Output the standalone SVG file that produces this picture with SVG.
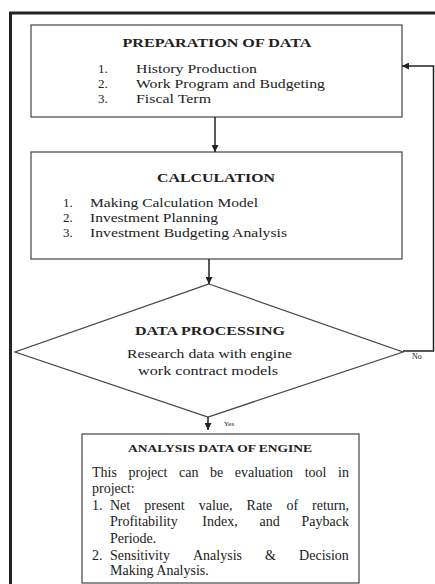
<svg xmlns="http://www.w3.org/2000/svg" width="435" height="584" viewBox="0 0 435 584">
<defs>
<marker id="ah" viewBox="0 0 10 10" refX="10" refY="5" markerWidth="7" markerHeight="7" markerUnits="userSpaceOnUse" orient="auto">
<path d="M0,0 L10,5 L0,10 Z" fill="#222"/>
</marker>
</defs>
<style>
text{font-family:"Liberation Serif","Times New Roman",serif;fill:#222}
.t{font-weight:bold;text-anchor:middle}
.box{fill:#fff;stroke:#444;stroke-width:1.2}
.ln{fill:none;stroke:#222;stroke-width:1.5}
</style>
<rect width="435" height="584" fill="#fff"/>
<g id="frame">
<path d="M10.5,584 V13 H435" fill="none" stroke="#222" stroke-width="3"/>
</g>
<g id="preparation">
<rect class="box" x="31" y="25" width="371" height="92"/>
<text class="t" x="217" y="47" font-size="12.5" textLength="189" lengthAdjust="spacingAndGlyphs">PREPARATION OF DATA</text>
<g font-size="13">
<text x="98" y="73">1.</text><text x="136" y="73" textLength="121" lengthAdjust="spacingAndGlyphs">History Production</text>
<text x="98" y="88">2.</text><text x="136" y="88" textLength="189" lengthAdjust="spacingAndGlyphs">Work Program and Budgeting</text>
<text x="98" y="103">3.</text><text x="136" y="103" textLength="75" lengthAdjust="spacingAndGlyphs">Fiscal Term</text>
</g>
</g>
<g id="calculation">
<rect class="box" x="31" y="152" width="371" height="107"/>
<text class="t" x="216" y="182" font-size="12.5" textLength="118" lengthAdjust="spacingAndGlyphs">CALCULATION</text>
<g font-size="13">
<text x="63" y="207">1.</text><text x="90" y="207" textLength="168" lengthAdjust="spacingAndGlyphs">Making Calculation Model</text>
<text x="63" y="222">2.</text><text x="90" y="222" textLength="128" lengthAdjust="spacingAndGlyphs">Investment Planning</text>
<text x="63" y="237">3.</text><text x="90" y="237" textLength="197" lengthAdjust="spacingAndGlyphs">Investment Budgeting Analysis</text>
</g>
</g>
<g id="processing">
<path class="box" d="M209,284 L403,352 L208,417 L15,352 Z"/>
<text class="t" x="210" y="335" font-size="12" textLength="150" lengthAdjust="spacingAndGlyphs">DATA PROCESSING</text>
<text x="127" y="358" font-size="12" textLength="165" lengthAdjust="spacingAndGlyphs">Research data with engine</text>
<text x="138" y="375" font-size="12" textLength="140" lengthAdjust="spacingAndGlyphs">work contract models</text>
</g>
<g id="analysis">
<rect class="box" x="82" y="434" width="277" height="149"/>
<text x="128" y="452" font-size="10.5" font-weight="bold" textLength="184" lengthAdjust="spacingAndGlyphs">ANALYSIS DATA OF ENGINE</text>
<g font-size="14">
<text y="477"><tspan x="92">This</tspan><tspan x="128.5">project</tspan><tspan x="179">can</tspan><tspan x="210">be</tspan><tspan x="234.8">evaluation</tspan><tspan x="304.7">tool</tspan><tspan x="338.1">in</tspan></text>
<text x="92" y="493">project:</text>
<text y="510"><tspan x="92">1.</tspan><tspan x="110">Net</tspan><tspan x="144.3">present</tspan><tspan x="198.7">value,</tspan><tspan x="246.6">Rate</tspan><tspan x="286.4">of</tspan><tspan x="312.1">return,</tspan></text>
<text y="526"><tspan x="110">Profitability</tspan><tspan x="202.3">Index,</tspan><tspan x="259.5">and</tspan><tspan x="301.5">Payback</tspan></text>
<text x="110" y="543">Periode.</text>
<text y="560"><tspan x="92">2.</tspan><tspan x="110">Sensitivity</tspan><tspan x="193">Analysis</tspan><tspan x="265.1">&amp;</tspan><tspan x="299.1">Decision</tspan></text>
<text x="110" y="575">Making Analysis.</text>
</g>
</g>
<g id="connectors">
<path class="ln" d="M215,117 V152" marker-end="url(#ah)"/>
<path class="ln" d="M209,259 V284" marker-end="url(#ah)"/>
<path class="ln" d="M208,417 V430" marker-end="url(#ah)"/>
<path class="ln" d="M403,351 H433.5 V66 H402" marker-end="url(#ah)"/>
<text x="224" y="426" font-size="7">Yes</text>
<text x="412" y="359" font-size="8">No</text>
</g>
</svg>
